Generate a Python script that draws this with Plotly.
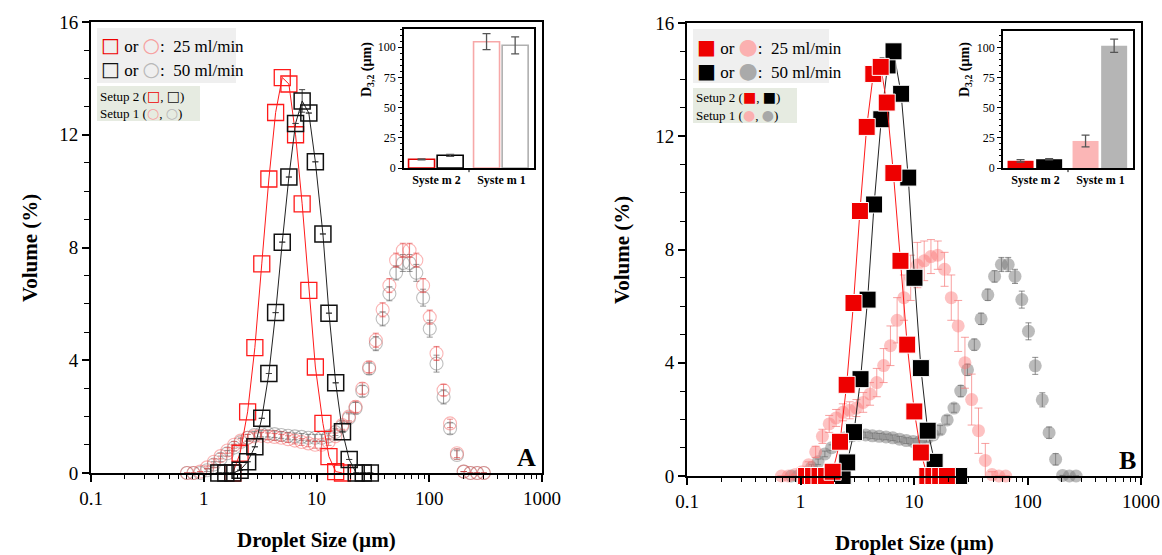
import plotly.graph_objects as go

W, H = 1162, 555
FONT = "Liberation Serif, Times New Roman, DejaVu Serif, serif"

# ======================= DATA =======================
# ---- Panel A : Setup 2 (open squares) ----
A_sq25_size = [1.81, 2.10, 2.45, 2.84, 3.27, 3.78, 4.34, 4.97, 5.69, 6.52, 7.46, 8.55, 9.77, 11.4, 12.9, 14.8, 17.0]
A_sq25_vol = [0.0, 0.70, 2.17, 4.45, 7.42, 10.43, 12.79, 14.03, 13.80, 12.00, 9.55, 6.48, 3.76, 1.76, 0.58, 0.05, 0.0]
A_sq50_size = [1.36, 1.57, 1.81, 2.10, 2.45, 2.84, 3.27, 3.78, 4.34, 4.97, 5.69, 6.52, 7.46, 8.55, 9.77,
               11.4, 12.9, 14.8, 17.0, 19.5, 22.5, 26.0, 30.0]
A_sq50_vol = [0, 0, 0, 0.10, 0.40, 0.93, 1.94, 3.53, 5.69, 8.19, 10.50, 12.40, 13.20, 12.77, 11.04,
              8.48, 5.67, 3.20, 1.46, 0.48, 0, 0, 0]
A_sq50_err = [0, 0, 0, 0, 0, 0, 0, 0, 0, 0, 0, 0, 0.40, 0, 0, 0, 0, 0, 0, 0, 0, 0, 0]

# ---- Panel A : Setup 1 (open circles) ----
A_ci_size = [0.71, 0.81, 0.93, 1.07, 1.23, 1.41, 1.62, 1.86, 2.13, 2.45, 2.81, 3.22, 3.70, 4.24, 4.87,
             5.59, 6.42, 7.37, 8.46, 9.71, 11.1, 12.8, 14.7, 16.9, 19.4, 22.2, 25.5, 29.3, 33.6, 38.6,
             44.3, 50.8, 58.3, 66.9, 76.8, 88.2, 101, 116, 134, 153, 176, 202, 232, 266, 305]
A_ci25_vol = [0, 0, 0.05, 0.20, 0.40, 0.60, 0.80, 1.00, 1.15, 1.25, 1.30, 1.32, 1.30, 1.28, 1.25,
              1.20, 1.15, 1.10, 1.05, 1.00, 1.00, 1.10, 1.30, 1.70, 2.00, 2.35, 3.00, 3.76, 4.71, 5.79,
              6.65, 7.55, 7.90, 7.90, 7.55, 6.65, 5.53, 4.24, 2.94, 1.76, 0.70, 0.05, 0, 0, 0]
A_ci25_err = [0, 0, 0, 0.05, 0.10, 0.10, 0.10, 0.12, 0.12, 0.12, 0.12, 0.12, 0.12, 0.12, 0.12,
              0.12, 0.12, 0.12, 0.12, 0.12, 0.12, 0.12, 0.12, 0.15, 0.15, 0.20, 0.20, 0.20, 0.25, 0.25,
              0.25, 0.25, 0.25, 0.25, 0.25, 0.25, 0.25, 0.25, 0.20, 0.15, 0.15, 0, 0, 0, 0]
A_ci50_vol = [0, 0, 0, 0.10, 0.30, 0.50, 0.70, 0.90, 1.10, 1.25, 1.35, 1.40, 1.40, 1.38, 1.35,
              1.32, 1.30, 1.28, 1.25, 1.25, 1.25, 1.30, 1.45, 1.65, 1.95, 2.30, 2.90, 3.70, 4.59, 5.47,
              6.36, 7.10, 7.45, 7.45, 7.10, 6.22, 5.12, 3.88, 2.70, 1.58, 0.64, 0.05, 0, 0, 0]
A_ci50_err = [0, 0, 0, 0.05, 0.10, 0.10, 0.10, 0.12, 0.12, 0.12, 0.12, 0.12, 0.12, 0.12, 0.12,
              0.12, 0.12, 0.12, 0.12, 0.12, 0.12, 0.12, 0.12, 0.15, 0.15, 0.20, 0.20, 0.20, 0.25, 0.25,
              0.25, 0.25, 0.30, 0.30, 0.30, 0.30, 0.30, 0.30, 0.25, 0.20, 0.15, 0, 0, 0, 0]

# ---- Panel B : Setup 2 (filled squares) ----
B_sq25_size = [1.12, 1.29, 1.47, 1.68, 1.92, 2.23, 2.55, 2.93, 3.34, 3.83, 4.38, 5.09, 5.75, 6.58, 7.60,
               8.71, 10.07, 11.5, 13.1, 14.8, 17.0, 19.5]
B_sq25_vol = [0, 0, 0, 0, 0.15, 1.21, 3.22, 6.11, 9.36, 12.33, 14.20, 14.45, 13.19, 10.70, 7.60,
              4.64, 2.28, 0.83, 0, 0, 0, 0]
B_sq50_size = [1.36, 1.57, 1.81, 2.05, 2.35, 2.58, 2.96, 3.38, 3.90, 4.45, 5.15, 5.85, 6.60, 7.70, 8.90,
               10.1, 11.5, 13.2, 15.2, 17.4, 20.0, 22.5, 25.0]
B_sq50_vol = [0, 0, 0, 0, 0, 0.48, 1.55, 3.42, 6.23, 9.59, 12.60, 14.50, 15.00, 13.50, 10.54,
              7.00, 3.81, 1.60, 0.50, 0, 0, 0, 0]

# ---- Panel B : Setup 1 (filled circles) ----
B_ci25_size = [0.68, 0.78, 0.90, 1.03, 1.18, 1.36, 1.56, 1.79, 2.06, 2.36, 2.71, 3.11, 3.57, 4.10, 4.70,
               5.40, 6.20, 7.10, 8.15, 9.35, 10.7, 12.3, 14.1, 16.2, 18.6, 21.3, 24.5, 28.1, 32.2, 37.0,
               42.5, 48.7, 55.9, 64.2]
B_ci25_vol = [0, 0, 0.05, 0.15, 0.40, 0.85, 1.40, 1.84, 2.05, 2.25, 2.32, 2.40, 2.60, 2.90, 3.30,
              3.90, 4.60, 5.50, 6.30, 7.00, 7.45, 7.60, 7.75, 7.80, 7.30, 6.30, 5.30, 4.00, 2.70, 1.60,
              0.55, 0.05, 0, 0]
B_ci25_err = [0, 0, 0, 0, 0.10, 0.20, 0.25, 0.30, 0.30, 0.30, 0.30, 0.30, 0.35, 0.40, 0.50,
              0.60, 0.70, 0.80, 0.80, 0.80, 0.80, 0.70, 0.60, 0.50, 0.60, 0.80, 0.90, 0.90, 0.90, 0.80,
              0.60, 0.10, 0, 0]
B_ci50_size = [0.83, 0.95, 1.09, 1.25, 1.43, 1.64, 1.88, 2.16, 2.48, 2.85, 3.27, 3.75, 4.30, 4.94, 5.67,
               6.50, 7.46, 8.56, 9.83, 11.3, 12.9, 14.8, 17.0, 19.6, 22.5, 25.8, 29.6, 34.0, 39.0, 44.7,
               51.3, 58.9, 67.6, 77.6, 89.1, 102, 117, 135, 155, 177, 204, 234, 268]
B_ci50_vol = [0, 0, 0.10, 0.30, 0.50, 0.78, 1.00, 1.20, 1.35, 1.42, 1.45, 1.45, 1.42, 1.40, 1.38,
              1.35, 1.30, 1.25, 1.22, 1.22, 1.30, 1.45, 1.63, 1.98, 2.40, 3.00, 3.75, 4.64, 5.55, 6.40,
              7.05, 7.47, 7.47, 7.05, 6.23, 5.11, 3.89, 2.69, 1.53, 0.59, 0.02, 0, 0]
B_ci50_err = [0, 0, 0.05, 0.10, 0.10, 0.10, 0.10, 0.10, 0.10, 0.10, 0.10, 0.10, 0.10, 0.10, 0.10,
              0.10, 0.10, 0.10, 0.10, 0.10, 0.10, 0.10, 0.15, 0.15, 0.15, 0.20, 0.20, 0.20, 0.20, 0.20,
              0.20, 0.25, 0.25, 0.25, 0.30, 0.30, 0.30, 0.25, 0.20, 0.20, 0, 0, 0]

# ---- Insets : D3,2 (µm) ----
systems = ["System 2", "System 1"]
A_d32_25 = [7.2, 104.5]
A_d32_25_err = [0.4, 6.6]
A_d32_50 = [10.5, 101.5]
A_d32_50_err = [0.8, 7.0]
B_d32_25 = [6.0, 22.5]
B_d32_25_err = [1.0, 4.9]
B_d32_50 = [7.3, 101.7]
B_d32_50_err = [0.5, 5.5]

x_ticks = [0.1, 1, 10, 100, 1000]
x_ticktext = ["0.1", "1", "10", "100", "1000"]

for a, b in [(A_sq25_size, A_sq25_vol), (A_sq50_size, A_sq50_vol), (A_sq50_size, A_sq50_err),
             (A_ci_size, A_ci25_vol), (A_ci_size, A_ci25_err), (A_ci_size, A_ci50_vol), (A_ci_size, A_ci50_err),
             (B_sq25_size, B_sq25_vol), (B_sq50_size, B_sq50_vol),
             (B_ci25_size, B_ci25_vol), (B_ci25_size, B_ci25_err),
             (B_ci50_size, B_ci50_vol), (B_ci50_size, B_ci50_err)]:
    assert len(a) == len(b), (len(a), len(b))

# ======================= FIGURE =======================
fig = go.Figure()

def px(x):
    return x / W

def py(y):
    return 1 - y / H

# ---- panel A traces ----
fig.add_trace(go.Scatter(x=A_ci_size, y=A_ci50_vol, mode="markers", xaxis="x", yaxis="y",
                         marker=dict(symbol="circle-open", size=13, color="rgba(110,110,110,0.45)",
                                     line=dict(width=1.1)),
                         error_y=dict(type="data", array=A_ci50_err, color="rgba(80,80,80,0.6)",
                                      thickness=1, width=3),
                         cliponaxis=False, showlegend=False))
fig.add_trace(go.Scatter(x=A_ci_size, y=A_ci25_vol, mode="markers", xaxis="x", yaxis="y",
                         marker=dict(symbol="circle-open", size=13, color="rgba(245,70,70,0.40)",
                                     line=dict(width=1.1)),
                         error_y=dict(type="data", array=A_ci25_err, color="rgba(220,60,60,0.6)",
                                      thickness=1, width=3),
                         cliponaxis=False, showlegend=False))
fig.add_trace(go.Scatter(x=A_sq25_size, y=A_sq25_vol, mode="lines+markers", xaxis="x", yaxis="y",
                         line=dict(color="#ff1a1a", width=1),
                         marker=dict(symbol="square-open", size=16, color="#ff1a1a", line=dict(width=1.3)),
                         cliponaxis=False, showlegend=False))
fig.add_trace(go.Scatter(x=A_sq50_size, y=A_sq50_vol, mode="lines+markers", xaxis="x", yaxis="y",
                         line=dict(color="#222222", width=1),
                         marker=dict(symbol="square-open", size=16, color="#111111", line=dict(width=1.5)),
                         error_y=dict(type="data", array=A_sq50_err, color="#444", thickness=1, width=3),
                         cliponaxis=False, showlegend=False))

# ---- panel B traces ----
fig.add_trace(go.Scatter(x=B_ci50_size, y=B_ci50_vol, mode="markers", xaxis="x2", yaxis="y2",
                         marker=dict(symbol="circle", size=13, color="rgba(120,120,120,0.5)", line=dict(width=0)),
                         error_y=dict(type="data", array=B_ci50_err, color="rgba(70,70,70,0.6)",
                                      thickness=1, width=3),
                         cliponaxis=False, showlegend=False))
fig.add_trace(go.Scatter(x=B_ci25_size, y=B_ci25_vol, mode="markers", xaxis="x2", yaxis="y2",
                         marker=dict(symbol="circle", size=13, color="rgba(250,120,120,0.45)", line=dict(width=0)),
                         error_y=dict(type="data", array=B_ci25_err, color="rgba(245,120,120,0.7)",
                                      thickness=1, width=4),
                         cliponaxis=False, showlegend=False))
fig.add_trace(go.Scatter(x=B_sq50_size, y=B_sq50_vol, mode="lines+markers", xaxis="x2", yaxis="y2",
                         line=dict(color="#222222", width=1),
                         marker=dict(symbol="square", size=17, color="#000000", line=dict(width=1, color="white")),
                         cliponaxis=False, showlegend=False))
fig.add_trace(go.Scatter(x=B_sq25_size, y=B_sq25_vol, mode="lines+markers", xaxis="x2", yaxis="y2",
                         line=dict(color="#ff1a1a", width=1),
                         marker=dict(symbol="square", size=17, color="#ee0000", line=dict(width=1, color="white")),
                         cliponaxis=False, showlegend=False))

# ---- insets ----
centers = [0.25, 0.75]
pos25 = [c - 0.115 for c in centers]
pos50 = [c + 0.105 for c in centers]

fig.add_trace(go.Bar(x=pos25, y=A_d32_25, width=0.2, xaxis="x3", yaxis="y3",
                     marker=dict(color="white", line=dict(color=["#e00000", "#f7a8a8"], width=1.6)),
                     error_y=dict(type="data", array=A_d32_25_err, color="#555", thickness=1.3, width=4),
                     showlegend=False))
fig.add_trace(go.Bar(x=pos50, y=A_d32_50, width=0.2, xaxis="x3", yaxis="y3",
                     marker=dict(color="white", line=dict(color=["#000000", "#b0b0b0"], width=1.6)),
                     error_y=dict(type="data", array=A_d32_50_err, color="#555", thickness=1.3, width=4),
                     showlegend=False))
fig.add_trace(go.Bar(x=pos25, y=B_d32_25, width=0.2, xaxis="x4", yaxis="y4",
                     marker=dict(color=["#ee0000", "#fbb6b6"], line=dict(width=0)),
                     error_y=dict(type="data", array=B_d32_25_err, color="#555", thickness=1.3, width=4),
                     showlegend=False))
fig.add_trace(go.Bar(x=pos50, y=B_d32_50, width=0.2, xaxis="x4", yaxis="y4",
                     marker=dict(color=["#000000", "#b5b5b5"], line=dict(width=0)),
                     error_y=dict(type="data", array=B_d32_50_err, color="#555", thickness=1.3, width=4),
                     showlegend=False))

# ---- axes ----
minor_log = [k * 10.0 ** e for e in (-1, 0, 1, 2) for k in range(2, 10)]
tickfont = dict(family=FONT, size=19, color="black")

def main_x(domain, anchor):
    return dict(type="log", range=[-1, 3], domain=domain, anchor=anchor, automargin=False,
                showline=True, linecolor="black", linewidth=2, mirror=True,
                ticks="outside", ticklen=7, tickwidth=1.5, tickcolor="black",
                tickvals=x_ticks, ticktext=x_ticktext, tickfont=tickfont,
                minor=dict(tickvals=minor_log, ticks="outside", ticklen=4, tickwidth=1.2,
                           tickcolor="black", showgrid=False),
                showgrid=False, zeroline=False)

def main_y(domain, anchor):
    return dict(range=[0, 16], domain=domain, anchor=anchor, automargin=False,
                showline=True, linecolor="black", linewidth=2, mirror=True,
                ticks="outside", ticklen=7, tickwidth=1.5, tickcolor="black",
                tickvals=[0, 4, 8, 12, 16], tickfont=tickfont,
                minor=dict(dtick=1, ticks="outside", ticklen=5, tickwidth=1.2, tickcolor="black",
                           showgrid=False),
                showgrid=False, zeroline=False)

def inset_x(domain, anchor):
    return dict(range=[0, 1], domain=domain, anchor=anchor, automargin=False,
                showline=True, linecolor="black", linewidth=1.5, mirror=True,
                ticks="", tickvals=centers,
                ticktext=["<b>Syste m 2</b>", "<b>Syste m 1</b>"],
                tickfont=dict(family=FONT, size=12, color="black"),
                showgrid=False, zeroline=False)

def inset_y(domain, anchor, top):
    return dict(range=[0, top], domain=domain, anchor=anchor, automargin=False,
                showline=True, linecolor="black", linewidth=1.5, mirror=True,
                ticks="outside", ticklen=4, tickwidth=1, tickcolor="black",
                tickvals=[0, 25, 50, 75, 100], tickfont=dict(family=FONT, size=12, color="black"),
                minor=dict(dtick=5, ticks="outside", ticklen=2, tickwidth=1, tickcolor="black",
                           showgrid=False),
                showgrid=False, zeroline=False)

fig.update_layout(
    template="none",
    width=W, height=H, margin=dict(l=0, r=0, t=0, b=0, autoexpand=False),
    paper_bgcolor="white", plot_bgcolor="white",
    font=dict(family=FONT, color="black"),
    barmode="overlay",
    xaxis=main_x([px(91), px(542)], "y"),
    yaxis=main_y([py(473), py(22)], "x"),
    xaxis2=main_x([px(687), px(1141)], "y2"),
    yaxis2=main_y([py(476), py(23)], "x2"),
    xaxis3=inset_x([px(404), px(534)], "y3"),
    yaxis3=inset_y([py(168), py(29)], "x3", 115),
    xaxis4=inset_x([px(1003), px(1133)], "y4"),
    yaxis4=inset_y([py(168), py(31)], "x4", 114),
)

# small separator tick between the two systems of each inset
for xa, ya in (("x3", "y3"), ("x4", "y4")):
    fig.add_shape(type="line", xref=xa, yref=f"{ya} domain", x0=0.5, x1=0.5, y0=0, y1=-0.03,
                  line=dict(color="black", width=1))

# ---- legend boxes ----
def box(x0, x1, y0, y1, color):
    fig.add_shape(type="rect", xref="paper", yref="paper", x0=px(x0), x1=px(x1),
                  y0=py(y1), y1=py(y0), fillcolor=color, line=dict(width=0), layer="below")

def txt(x, y, text, size, **kw):
    fig.add_annotation(xref="paper", yref="paper", x=px(x), y=py(y), text=text, showarrow=False,
                       xanchor=kw.get("xanchor", "left"), yanchor="middle",
                       font=dict(family=FONT, size=size, color="black"), textangle=kw.get("angle", 0))

def sym(ch, color, size):
    return f'<span style="color:{color};font-size:{size}px;font-family:DejaVu Sans">{ch}</span>'

NB = "\u00a0"
# panel A legend
box(97, 236, 28, 83, "#efefef")
box(97, 200, 86, 121, "#e6ebe1")
txt(99, 45, sym("□", "#ee0000", 20) + " or " + sym("○", "#f7a0a0", 20) + f":{NB}{NB}25 ml/min", 17)
txt(99, 69, sym("□", "#111111", 20) + " or " + sym("○", "#b8b8b8", 20) + f":{NB}{NB}50 ml/min", 17)
txt(98, 96, "Setup 2 (" + sym("□", "#ee0000", 14) + ", " + sym("□", "#111111", 14) + ")", 13)
txt(98, 113, "Setup 1 (" + sym("○", "#f7a0a0", 14) + ", " + sym("○", "#b8b8b8", 14) + ")", 13)

# panel B legend
box(693, 829, 29, 83, "#efefef")
box(693, 797, 88, 123, "#e6ebe1")
txt(695, 46, sym("■", "#ee0000", 20) + " or " + sym("●", "#fbb0b0", 22) + f":{NB}{NB}25 ml/min", 17)
txt(695, 70, sym("■", "#000000", 20) + " or " + sym("●", "#aaaaaa", 22) + f":{NB}{NB}50 ml/min", 17)
txt(694, 97, "Setup 2 (" + sym("■", "#ee0000", 14) + ", " + sym("■", "#000000", 14) + ")", 13)
txt(694, 115, "Setup 1 (" + sym("●", "#fbb0b0", 14) + ", " + sym("●", "#a8a8a8", 14) + ")", 13)

# axis titles
txt(316, 540, "<b>Droplet Size (µm)</b>", 21, xanchor="center")
txt(914, 543, "<b>Droplet Size (µm)</b>", 21, xanchor="center")
txt(30, 248, "<b>Volume (%)</b>", 21, xanchor="center", angle=-90)
txt(622, 250, "<b>Volume (%)</b>", 21, xanchor="center", angle=-90)
txt(367, 70, "<b>D<sub>3,2</sub> (µm)</b>", 14, xanchor="center", angle=-90)
txt(965, 70, "<b>D<sub>3,2</sub> (µm)</b>", 14, xanchor="center", angle=-90)

# panel letters
txt(526, 457, "<b>A</b>", 26, xanchor="center")
txt(1127, 460, "<b>B</b>", 26, xanchor="center")

fig.write_html("out.html", config={"displayModeBar": False},
               post_script="document.body.style.margin='0px';document.body.style.overflow='hidden';")
